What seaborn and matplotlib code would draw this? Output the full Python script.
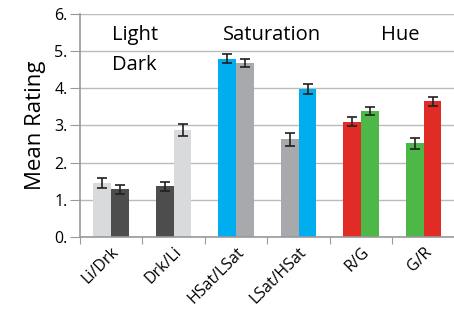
"""
plot.py
Mean rating per ordering, with error bars, drawn with seaborn/matplotlib.
"""

import matplotlib
matplotlib.use("Agg")
import matplotlib.pyplot as plt
import pandas as pd
import seaborn as sns

categories = ["Li/Drk", "Drk/Li", "HSat/LSat", "LSat/HSat", "R/G", "G/R"]
first_vals = [1.45, 1.37, 4.80, 2.63, 3.10, 2.52]
second_vals = [1.29, 2.88, 4.68, 3.98, 3.39, 3.65]
first_err = [0.13, 0.12, 0.13, 0.18, 0.12, 0.14]
second_err = [0.12, 0.15, 0.12, 0.14, 0.12, 0.12]
first_colors = ["#D9DADB", "#4D4D4D", "#00AEEF", "#A7A9AC", "#E02B26", "#4DB848"]
second_colors = ["#4D4D4D", "#D9DADB", "#A7A9AC", "#00AEEF", "#4DB848", "#E02B26"]
y_ticks = [0, 1, 2, 3, 4, 5, 6]
y_labels = ["0.", "1.", "2.", "3.", "4.", "5.", "6."]

df = pd.DataFrame({
    "cat": categories * 2,
    "pos": ["a"] * len(categories) + ["b"] * len(categories),
    "val": first_vals + second_vals,
    "err": first_err + second_err,
    "color": first_colors + second_colors,
})

sns.set_style("white")
plt.rcParams["font.family"] = ["Open Sans", "DejaVu Sans"]
plt.rcParams["text.color"] = "black"
plt.rcParams["axes.labelcolor"] = "black"
plt.rcParams["xtick.color"] = "black"
plt.rcParams["ytick.color"] = "black"

fig = plt.figure(figsize=(4.54, 3.23), dpi=100)
ax = fig.add_axes([0.176, 0.266, 0.83, 0.691])

sns.barplot(data=df, x="cat", y="val", hue="pos", order=categories,
            hue_order=["a", "b"], width=0.57, gap=0, legend=False,
            errorbar=None, ax=ax, saturation=1)

bars = [p for p in ax.patches][:len(df)]
for patch, color in zip(bars, df["color"]):
    patch.set_facecolor(color)
    patch.set_edgecolor("none")

xs = [p.get_x() + p.get_width() / 2 for p in bars]
ax.errorbar(xs, df["val"], yerr=df["err"], fmt="none", ecolor="#231F20",
            elinewidth=1.2, capsize=3.5, capthick=1.2, zorder=5)

ax.set_ylim(0, 6)
ax.set_xlim(-0.5, 5.53)
ax.set_yticks(y_ticks)
ax.set_yticklabels(y_labels, fontsize=11.5)
ax.set_xticks([i + 0.5 for i in range(-1, len(categories))], minor=False)
ax.set_xticklabels([])
ax.set_xticks(range(len(categories)), minor=True)
ax.set_xticklabels(categories, minor=True, rotation=45, ha="right",
                   rotation_mode="anchor", fontsize=11.5)
ax.tick_params(axis="x", which="major", length=5, color="#999999",
               direction="out", bottom=True)
ax.tick_params(axis="x", which="minor", length=0, pad=5)
ax.tick_params(axis="y", length=7, color="#999999", left=True, pad=2)
ax.set_xlabel("")
ax.set_ylabel("Mean Rating", fontsize=16, labelpad=6)

ax.grid(axis="y", color="#BBBBBB", linewidth=1)
ax.set_axisbelow(True)
for side in ["top", "right"]:
    ax.spines[side].set_visible(False)
for side in ["left", "bottom"]:
    ax.spines[side].set_color("#999999")
    ax.spines[side].set_linewidth(1.2)

ax.text(0.02, 5.43, "Light", fontsize=14.5, va="center", ha="left")
ax.text(0.02, 4.62, "Dark", fontsize=14.5, va="center", ha="left")
ax.text(2.58, 5.43, "Saturation", fontsize=14.5, va="center", ha="center")
ax.text(4.63, 5.43, "Hue", fontsize=14.5, va="center", ha="center")

fig.savefig("out.png", dpi=100)
